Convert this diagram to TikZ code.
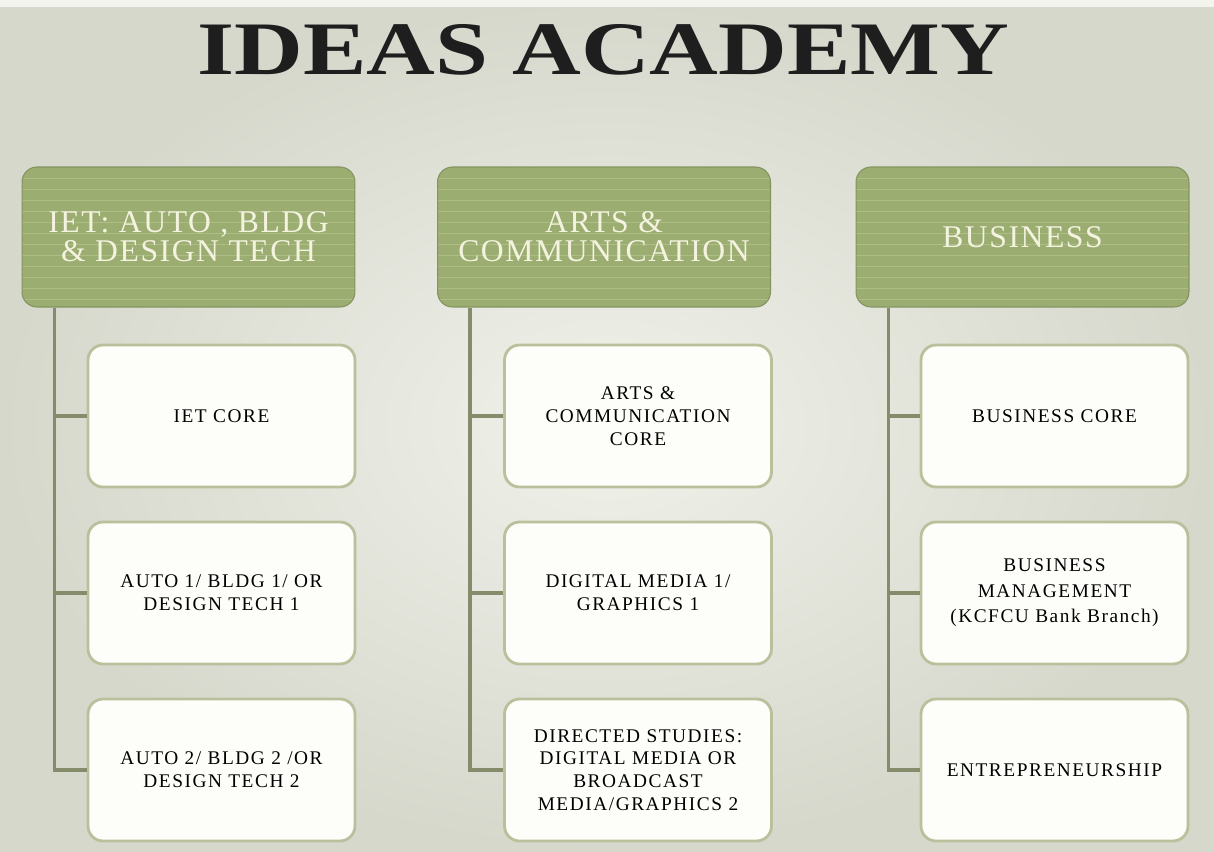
\documentclass[tikz,border=0pt]{standalone}
\usepackage{fontspec}
\setmainfont{Liberation Serif}
\newfontfamily\hdrfont{Liberation Serif}[LetterSpace=5]
\newfontfamily\boxfont{Liberation Serif}[LetterSpace=8]
\definecolor{bgin}{HTML}{F0F1EA}
\definecolor{bgout}{HTML}{D6D8CC}
\definecolor{hdrgreen}{HTML}{9BAD71}
\definecolor{stripec}{HTML}{ADBD85}
\definecolor{hdrtext}{HTML}{F3F3DF}
\definecolor{connc}{HTML}{858C6C}
\definecolor{boxborder}{HTML}{B9C19C}
\definecolor{boxfill}{HTML}{FDFDF9}
\definecolor{titlec}{HTML}{1E1E1E}
\definecolor{edgewhite}{HTML}{F3F4EE}
\begin{document}
\begin{tikzpicture}[x=0.02cm,y=-0.02cm,
  hdr/.style={draw=hdrgreen!85!black, line width=0.6pt, fill=hdrgreen, rounded corners=0.3cm,
    minimum width=6.66cm, minimum height=2.8cm, align=center, text=hdrtext,
    font=\hdrfont\fontsize{18}{16.5}\selectfont,
    path picture={\foreach \k in {1,...,12}
      \draw[stripec, line width=0.5pt] ([yshift=-\k*0.22cm]path picture bounding box.north west) -- ++(7cm,0);}},
  child/.style={draw=boxborder, line width=1.6pt, fill=boxfill, rounded corners=0.3cm,
    minimum width=5.34cm, minimum height=2.84cm, align=center, text=black,
    font=\boxfont\fontsize{11}{13}\selectfont},
  conn/.style={draw=connc, line width=1.8pt},
  titlestyle/.style={text=titlec, inner sep=0pt, xscale=1.26, font=\fontsize{43}{50}\selectfont\bfseries}
]
\useasboundingbox (0,0) rectangle (1214,852);
\shade[inner color=bgin, outer color=bgout] (0,0) rectangle (1214,852);
\fill[edgewhite] (0,0) rectangle (1214,7);

\node[titlestyle] (title) at (603.5,50) {IDEAS ACADEMY};

% headers
\node[hdr] (h1) at (188.5,237) {IET: AUTO , BLDG\\\& DESIGN TECH};
\node[hdr] (h2) at (604,237) {ARTS \&\\COMMUNICATION};
\node[hdr] (h3) at (1022.5,237) {BUSINESS};

% children
\node[child] (c11) at (221.5,416) {IET CORE};
\node[child] (c12) at (221.5,593) {AUTO 1/ BLDG 1/ OR\\DESIGN TECH 1};
\node[child] (c13) at (221.5,770) {AUTO 2/ BLDG 2 /OR\\DESIGN TECH 2};

\node[child] (c21) at (638,416) {ARTS \&\\COMMUNICATION\\CORE};
\node[child] (c22) at (638,593) {DIGITAL MEDIA 1/\\GRAPHICS 1};
\node[child] (c23) at (638,770) {DIRECTED STUDIES:\\DIGITAL MEDIA OR\\BROADCAST\\MEDIA/GRAPHICS 2};

\node[child] (c31) at (1054.5,416) {BUSINESS CORE};
\node[child, font=\boxfont\fontsize{11}{14.5}\selectfont] (c32) at (1054.5,593) {BUSINESS\\MANAGEMENT\\(KCFCU Bank Branch)};
\node[child] (c33) at (1054.5,770) {ENTREPRENEURSHIP};

% connectors
\foreach \h/\c in {h1/c1, h2/c2, h3/c3} {
  \draw[conn] ([xshift=0.66cm]\h.south west) |- (\c1.west);
  \draw[conn] ([xshift=0.66cm]\h.south west) |- (\c2.west);
  \draw[conn] ([xshift=0.66cm]\h.south west) |- (\c3.west);
}
\end{tikzpicture}
\end{document}
